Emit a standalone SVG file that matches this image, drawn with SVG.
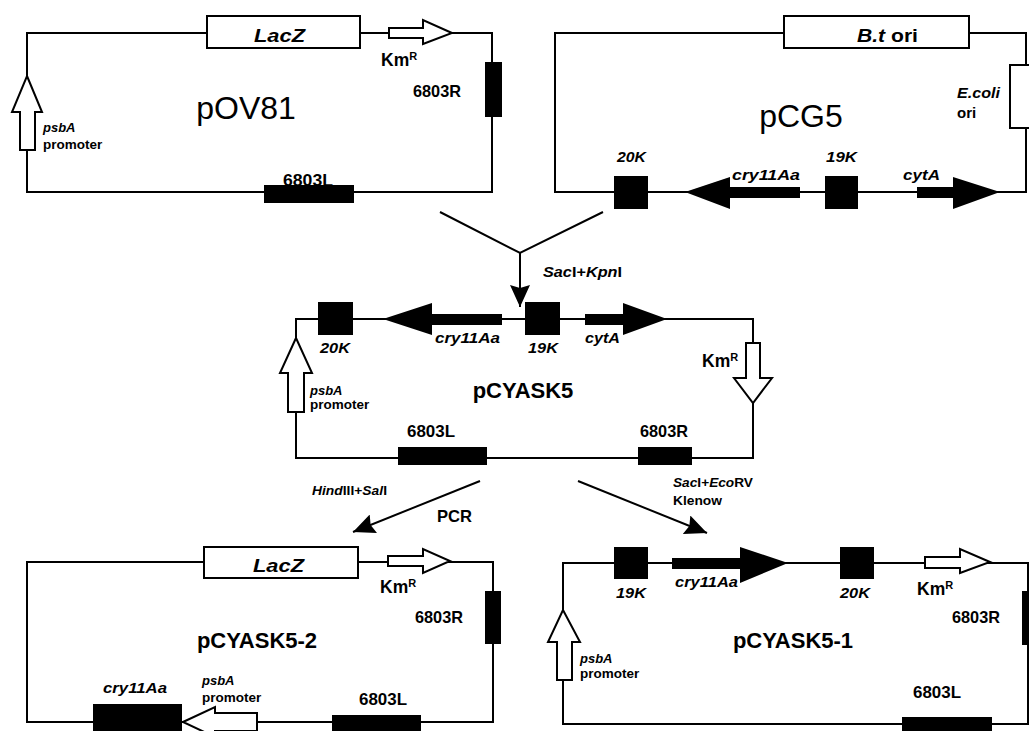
<svg xmlns="http://www.w3.org/2000/svg" width="1029" height="731" viewBox="0 0 1029 731">
<defs>
<style>
.ln{stroke:#000;stroke-width:2;fill:none}
.bk{fill:#000}
.ho{fill:#fff;stroke:#000;stroke-width:2}
text{font-family:"Liberation Sans",Arial,sans-serif;font-weight:bold;fill:#000}
.i{font-style:italic}
.lb{font-size:16.5px}
.km{font-size:17.5px}
.g{font-size:15px;font-style:italic}
.ps{font-size:13px;font-style:italic}
.pr{font-size:13.5px}
.s{font-size:13px}
.big{font-size:32px;font-weight:normal}
.nm{font-size:22px}
.box{font-size:18px}
</style>
<marker id="ah2" viewBox="0 0 22 20" refX="22" refY="10" markerWidth="22" markerHeight="20" markerUnits="userSpaceOnUse" orient="auto"><path d="M0,0 L22,10 L0,20 L3,10 z" fill="#000"/></marker>
</defs>

<g id="pOV81">
<rect class="ln" x="27" y="33" width="465" height="159"/>
<rect class="ho" x="207" y="16" width="153" height="32"/>
<text class="i box" x="254" y="42" textLength="51" lengthAdjust="spacingAndGlyphs">LacZ</text>
<polygon class="ho" points="389,28 423,28 423,20 452,33 423,44 423,38 389,38"/>
<text class="km" x="381" y="66">Km<tspan font-size="11" dy="-6">R</tspan></text>
<rect class="bk" x="485" y="62" width="17" height="55"/>
<text class="lb" x="413" y="97" textLength="48" lengthAdjust="spacingAndGlyphs">6803R</text>
<text class="big" x="246" y="119" text-anchor="middle">pOV81</text>
<polygon class="ho" points="27,76 42,112 35,112 35,150 20,150 20,112 12,112"/>
<text class="ps" x="43" y="132">psbA</text>
<text class="pr" x="43" y="149">promoter</text>
<rect class="bk" x="264" y="185" width="90" height="18"/>
<text class="lb" x="283" y="186" textLength="50" lengthAdjust="spacingAndGlyphs">6803L</text>
</g>

<g id="pCG5">
<rect class="ln" x="555" y="33" width="471" height="159"/>
<rect class="ho" x="784" y="16" width="185" height="32"/>
<text class="box" x="857" y="42" textLength="61" lengthAdjust="spacingAndGlyphs"><tspan class="i">B.t</tspan> ori</text>
<rect class="ho" x="1010" y="65" width="40" height="63"/>
<text class="g" x="957" y="98" textLength="43" lengthAdjust="spacingAndGlyphs">E.coli</text>
<text style="font-size:15px" x="957" y="118">ori</text>
<text class="big" x="801" y="127" text-anchor="middle">pCG5</text>
<text class="g" x="617" y="162" textLength="29" lengthAdjust="spacingAndGlyphs">20K</text>
<rect class="bk" x="614" y="176" width="34" height="33"/>
<polygon class="bk" points="685,192 730,177 730,187 800,187 800,198 730,198 730,209"/>
<text class="g" x="732" y="180" textLength="68" lengthAdjust="spacingAndGlyphs">cry11Aa</text>
<rect class="bk" x="825" y="176" width="33" height="33"/>
<text class="g" x="826" y="162" textLength="31" lengthAdjust="spacingAndGlyphs">19K</text>
<polygon class="bk" points="917,187 953,187 953,177 1000,192 953,209 953,198 917,198"/>
<text class="g" x="903" y="180" textLength="37" lengthAdjust="spacingAndGlyphs">cytA</text>
</g>

<g id="connectors">
<path class="ln" d="M440,212 L520,253 L603,212"/>
<path class="ln" d="M520,253 V307" marker-end="url(#ah2)"/>
<path class="ln" d="M480,481 L353,532" marker-end="url(#ah2)"/>
<path class="ln" d="M578,481 L707,533" marker-end="url(#ah2)"/>
</g>
<g id="labels">
<text class="s" x="543" y="277" style="font-size:14.5px" textLength="79" lengthAdjust="spacingAndGlyphs"><tspan class="i">Sac</tspan>I+<tspan class="i">Kpn</tspan>I</text>
<text class="s" x="312" y="495" textLength="75" lengthAdjust="spacingAndGlyphs"><tspan class="i">Hind</tspan>III+<tspan class="i">Sal</tspan>I</text>
<text class="lb" x="437" y="522" textLength="35" lengthAdjust="spacingAndGlyphs">PCR</text>
<text class="s" x="673" y="487" textLength="80" lengthAdjust="spacingAndGlyphs"><tspan class="i">Sac</tspan>I+<tspan class="i">Eco</tspan>RV</text>
<text class="s" x="673" y="505" textLength="49" lengthAdjust="spacingAndGlyphs">Klenow</text>
</g>

<g id="pCYASK5">
<rect class="ln" x="296" y="319" width="457" height="139"/>
<rect class="bk" x="318" y="302" width="35" height="33"/>
<text class="g" x="320" y="353" textLength="30" lengthAdjust="spacingAndGlyphs">20K</text>
<polygon class="bk" points="383,319 432,303 432,314 502,314 502,325 432,325 432,335"/>
<text class="g" x="435" y="343" textLength="65" lengthAdjust="spacingAndGlyphs">cry11Aa</text>
<rect class="bk" x="525" y="302" width="35" height="33"/>
<text class="g" x="528" y="353" textLength="30" lengthAdjust="spacingAndGlyphs">19K</text>
<polygon class="bk" points="585,314 623,314 623,303 667,319 623,335 623,325 585,325"/>
<text class="g" x="585" y="343" textLength="35" lengthAdjust="spacingAndGlyphs">cytA</text>
<polygon class="ho" points="746,343 760,343 760,378 772,378 753,403 734,378 746,378"/>
<text class="km" x="702" y="367">Km<tspan font-size="11" dy="-6">R</tspan></text>
<polygon class="ho" points="296,338 312,373 304,373 304,412 288,412 288,373 280,373"/>
<text class="ps" x="310" y="395">psbA</text>
<text class="pr" x="310" y="409">promoter</text>
<text class="nm" x="523" y="398" text-anchor="middle">pCYASK5</text>
<rect class="bk" x="398" y="447" width="89" height="18"/>
<text class="lb" x="407" y="437" textLength="48" lengthAdjust="spacingAndGlyphs">6803L</text>
<rect class="bk" x="638" y="447" width="54" height="18"/>
<text class="lb" x="640" y="437" textLength="48" lengthAdjust="spacingAndGlyphs">6803R</text>
</g>

<g id="pCYASK5-2">
<rect class="ln" x="27" y="562" width="466" height="160"/>
<rect class="ho" x="204" y="547" width="154" height="31"/>
<text class="i box" x="253" y="572" textLength="51" lengthAdjust="spacingAndGlyphs">LacZ</text>
<polygon class="ho" points="388,556 423,556 423,549 450,561 423,573 423,566 388,566"/>
<text class="km" x="380" y="593">Km<tspan font-size="11" dy="-6">R</tspan></text>
<rect class="bk" x="485" y="591" width="16" height="53"/>
<text class="lb" x="415" y="623" textLength="48" lengthAdjust="spacingAndGlyphs">6803R</text>
<text class="nm" x="257" y="648" text-anchor="middle">pCYASK5-2</text>
<rect class="bk" x="93" y="704" width="89" height="35"/>
<text class="g" x="103" y="693" textLength="64" lengthAdjust="spacingAndGlyphs">cry11Aa</text>
<polygon class="ho" points="183,722 215,707 215,713 257,713 257,731 215,731 215,737"/>
<text class="ps" x="202" y="685">psbA</text>
<text class="pr" x="202" y="702">promoter</text>
<rect class="bk" x="332" y="715" width="89" height="20"/>
<text class="lb" x="359" y="705" textLength="48" lengthAdjust="spacingAndGlyphs">6803L</text>
</g>

<g id="pCYASK5-1">
<rect class="ln" x="563" y="563" width="465" height="161"/>
<rect class="bk" x="614" y="547" width="34" height="32"/>
<text class="g" x="616" y="598" textLength="30" lengthAdjust="spacingAndGlyphs">19K</text>
<polygon class="bk" points="672,558 740,558 740,547 788,563 740,583 740,569 672,569"/>
<text class="g" x="675" y="587" textLength="63" lengthAdjust="spacingAndGlyphs">cry11Aa</text>
<rect class="bk" x="840" y="547" width="34" height="32"/>
<text class="g" x="840" y="598" textLength="30" lengthAdjust="spacingAndGlyphs">20K</text>
<polygon class="ho" points="925,557 960,557 960,549 990,562 960,573 960,568 925,568"/>
<text class="km" x="917" y="595">Km<tspan font-size="11" dy="-6">R</tspan></text>
<rect class="bk" x="1022" y="591" width="12" height="54"/>
<text class="lb" x="952" y="623" textLength="48" lengthAdjust="spacingAndGlyphs">6803R</text>
<text class="nm" x="793" y="648" text-anchor="middle">pCYASK5-1</text>
<polygon class="ho" points="563,610 580,642 572,642 572,680 557,680 557,642 548,642"/>
<text class="ps" x="580" y="663">psbA</text>
<text class="pr" x="580" y="678">promoter</text>
<rect class="bk" x="902" y="717" width="90" height="18"/>
<text class="lb" x="913" y="698" textLength="48" lengthAdjust="spacingAndGlyphs">6803L</text>
</g>
</svg>
